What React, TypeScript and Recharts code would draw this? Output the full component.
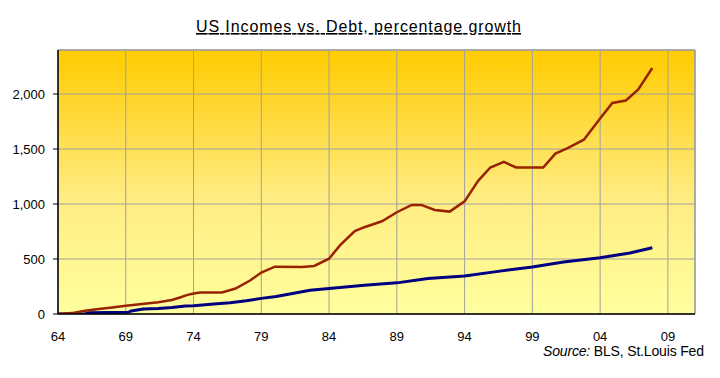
import React from "react";
import {
  LineChart,
  Line,
  XAxis,
  YAxis,
  CartesianGrid,
  ReferenceLine,
} from "recharts";

const debtYears = [
  1964, 1965, 1966, 1967, 1968, 1969, 1970.2, 1971.4, 1972.4, 1973, 1973.5, 1974,
  1974.5, 1976.1, 1977.1, 1978.2, 1979, 1980, 1982, 1982.9, 1984, 1984.8, 1985.9,
  1986.6, 1987.9, 1989, 1990.1, 1990.8, 1991.8, 1992.9, 1994, 1995, 1995.9, 1996.9,
  1997.8, 1999.8, 2000.7, 2001.6, 2002.8, 2004, 2004.9, 2005.9, 2006.8, 2007.85,
];
const debtValues = [
  0, 8, 30, 45, 60, 75, 90, 106, 127, 150, 172, 187,
  196, 196, 232, 307, 377, 430, 428, 437, 503, 624, 753,
  789, 843, 925, 992, 992, 946, 931, 1024, 1211, 1332, 1383,
  1332, 1332, 1458, 1507, 1585, 1778, 1919, 1941, 2040, 2236,
];

const incomeYears = [
  1964, 1966, 1966.3, 1969.2, 1969.4, 1970.3, 1971.4, 1972.4, 1973.4, 1974, 1975.5,
  1976.7, 1977.9, 1979, 1980.1, 1981.3, 1982.6, 1984, 1986.6, 1989, 1991.3, 1994,
  1996.2, 1999, 2001.3, 2004, 2006.2, 2007.85,
];
const incomeValues = [
  0, 0, 12, 15, 28, 45, 51, 60, 72, 75, 90,
  102, 120, 142, 160, 187, 215, 232, 262, 283, 322, 346,
  383, 428, 473, 512, 554, 603,
];

const xTicks = [1964, 1969, 1974, 1979, 1984, 1989, 1994, 1999, 2004, 2009];
const yTicks = [0, 500, 1000, 1500, 2000];

const titleText = "US Incomes vs. Debt, percentage growth";
const sourceLabel = "Source:";
const sourceText = " BLS, St.Louis Fed";

const debtData = debtYears.map((x, i) => ({ x, y: debtValues[i] }));
const incomeData = incomeYears.map((x, i) => ({ x, y: incomeValues[i] }));

const FONT = "'Liberation Sans', Arial, sans-serif";

export default function App() {
  return (
    <div style={{ position: "absolute", left: 0, top: 0, width: 720, height: 378, background: "#fff" }}>
      <LineChart
        width={720}
        height={378}
        margin={{ top: 50, right: 25, bottom: 34, left: 8 }}
      >
        <defs>
          <linearGradient id="bg" x1="0" y1="0" x2="0" y2="1">
            <stop offset="0%" stopColor="#FFCC00" />
            <stop offset="25%" stopColor="#FFD93A" />
            <stop offset="55%" stopColor="#FFEC80" />
            <stop offset="100%" stopColor="#FFFF9E" />
          </linearGradient>
        </defs>
        <CartesianGrid
          stroke="#A0A0A0"
          strokeWidth={1}
          fill="url(#bg)"
          fillOpacity={1}
        />
        <ReferenceLine y={2400} stroke="#A0A0A0" strokeWidth={1.5} ifOverflow="visible" />
        <ReferenceLine x={2011} stroke="#A0A0A0" strokeWidth={1.5} ifOverflow="visible" />
        <XAxis
          type="number"
          dataKey="x"
          domain={[1964, 2011]}
          ticks={xTicks}
          allowDataOverflow
          height={30}
          tickLine={false}
          tickSize={0}
          tickMargin={18}
          tickFormatter={(v: number) => String(Math.round(v) % 100).padStart(2, "0")}
          tick={{ fill: "#000", fontSize: 13, fontFamily: FONT }}
          axisLine={{ stroke: "#000", strokeWidth: 1.5 }}
        />
        <YAxis
          type="number"
          domain={[0, 2400]}
          ticks={yTicks}
          allowDataOverflow
          width={50}
          tickSize={5}
          tickMargin={8}
          tickLine={{ stroke: "#000" }}
          tickFormatter={(v: number) => v.toLocaleString("en-US")}
          tick={{ fill: "#000", fontSize: 13, fontFamily: FONT }}
          axisLine={{ stroke: "#000", strokeWidth: 1.5 }}
        />
        <Line
          data={incomeData}
          dataKey="y"
          type="linear"
          stroke="#000080"
          strokeWidth={3}
          dot={false}
          isAnimationActive={false}
        />
        <Line
          data={debtData}
          dataKey="y"
          type="linear"
          stroke="#992200"
          strokeWidth={2.5}
          dot={false}
          isAnimationActive={false}
        />
      </LineChart>
      <svg
        width={720}
        height={378}
        style={{ position: "absolute", left: 0, top: 0, pointerEvents: "none" }}
      >
        <text
          x={196}
          y={32}
          fontFamily={FONT}
          fontSize={16}
          fill="#000"
          textLength={325}
          lengthAdjust="spacing"
          textDecoration="underline"
        >
          {titleText}
        </text>
        <text
          x={543}
          y={356}
          fontFamily={FONT}
          fontSize={14}
          fill="#000"
          textLength={161}
          lengthAdjust="spacing"
        >
          <tspan fontStyle="italic">{sourceLabel}</tspan>
          <tspan>{sourceText}</tspan>
        </text>
      </svg>
    </div>
  );
}
